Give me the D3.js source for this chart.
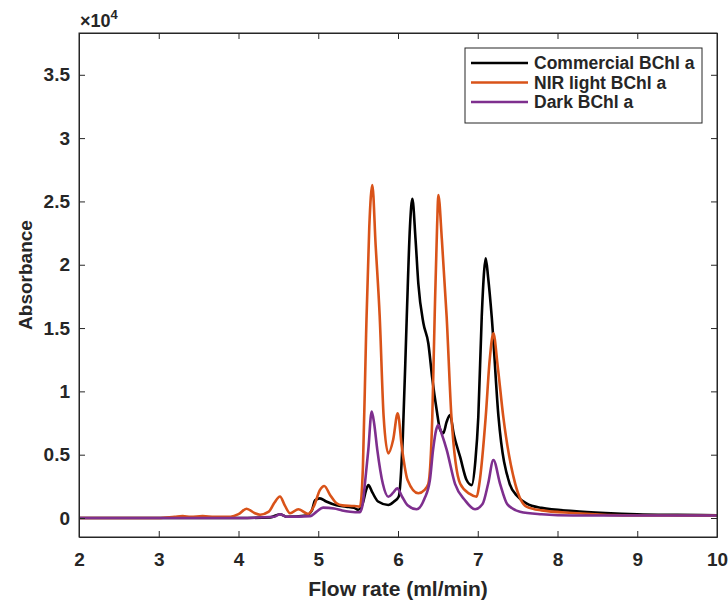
<!DOCTYPE html>
<html>
<head>
<meta charset="utf-8">
<script src="https://cdn.jsdelivr.net/npm/d3@7"></script>
<style>
  body { margin: 0; background: #fff; }
  text { font-family: "Liberation Sans", Arial, sans-serif; font-weight: bold; fill: #262626; }
</style>
</head>
<body>
<script>
// absorbance values are in units of 1e4 (axis shows x10^4)
const commercialX = [2, 3, 4, 4.4, 4.52, 4.6, 4.85, 4.92, 4.96, 5.02, 5.1, 5.23, 5.35, 5.45, 5.5, 5.56, 5.6, 5.628, 5.68, 5.75, 5.878, 5.95, 6.01, 6.06, 6.11, 6.15, 6.18, 6.22, 6.255, 6.318, 6.38, 6.43, 6.485, 6.527, 6.568, 6.61, 6.652, 6.7, 6.78, 6.86, 6.924, 6.97, 7.007, 7.05, 7.08, 7.1, 7.13, 7.175, 7.26, 7.4, 7.5, 7.61, 7.8, 8.2, 8.6, 9, 9.5, 10];
const commercialY = [0, 0, 0, 0.005, 0.03, 0.01, 0.02, 0.06, 0.14, 0.155, 0.13, 0.1, 0.09, 0.08, 0.065, 0.12, 0.22, 0.26, 0.2, 0.13, 0.103, 0.13, 0.17, 0.635, 1.59, 2.3, 2.52, 2.2, 1.85, 1.54, 1.38, 1.1, 0.853, 0.7, 0.67, 0.76, 0.814, 0.66, 0.48, 0.3, 0.26, 0.45, 0.8, 1.59, 1.95, 2.05, 1.9, 1.59, 0.8, 0.27, 0.17, 0.116, 0.08, 0.055, 0.04, 0.03, 0.025, 0.022];

const nirX = [2, 3, 3.2, 3.3, 3.4, 3.55, 3.7, 3.9, 4.0, 4.1, 4.2, 4.27, 4.38, 4.45, 4.52, 4.58, 4.646, 4.75, 4.875, 4.95, 5.02, 5.076, 5.15, 5.23, 5.3, 5.45, 5.523, 5.56, 5.6, 5.64, 5.678, 5.72, 5.77, 5.82, 5.878, 5.94, 5.996, 6.05, 6.12, 6.255, 6.33, 6.38, 6.43, 6.46, 6.49, 6.506, 6.55, 6.61, 6.67, 6.78, 6.9, 6.987, 7.02, 7.1, 7.15, 7.196, 7.25, 7.32, 7.47, 7.61, 7.8, 8.19, 9, 10];
const nirY = [0, 0, 0.01, 0.015, 0.01, 0.015, 0.01, 0.01, 0.03, 0.073, 0.04, 0.026, 0.05, 0.12, 0.17, 0.1, 0.037, 0.069, 0.032, 0.1, 0.22, 0.253, 0.18, 0.116, 0.1, 0.095, 0.09, 0.4, 1.45, 2.3, 2.63, 2.15, 1.6, 0.8, 0.51, 0.62, 0.827, 0.55, 0.3, 0.195, 0.22, 0.27, 0.8, 1.6, 2.3, 2.55, 2.2, 1.59, 0.8, 0.27, 0.19, 0.168, 0.27, 0.8, 1.25, 1.459, 1.2, 0.8, 0.27, 0.09, 0.06, 0.04, 0.02, 0.02];

const darkX = [2, 3, 4, 4.45, 4.52, 4.6, 4.9, 4.98, 5.06, 5.2, 5.3, 5.4, 5.52, 5.555, 5.585, 5.628, 5.67, 5.7, 5.74, 5.81, 5.878, 5.94, 5.99, 6.05, 6.12, 6.234, 6.33, 6.4, 6.44, 6.48, 6.506, 6.55, 6.61, 6.715, 6.84, 6.966, 7.06, 7.13, 7.196, 7.28, 7.37, 7.53, 7.8, 8.2, 9, 10];
const darkY = [0, 0, 0, 0.01, 0.03, 0.01, 0.015, 0.05, 0.082, 0.075, 0.06, 0.05, 0.045, 0.1, 0.27, 0.54, 0.84, 0.75, 0.54, 0.27, 0.168, 0.2, 0.234, 0.17, 0.1, 0.069, 0.15, 0.3, 0.54, 0.7, 0.735, 0.66, 0.54, 0.27, 0.14, 0.069, 0.11, 0.27, 0.458, 0.27, 0.11, 0.05, 0.03, 0.02, 0.02, 0.02];

const xTicks = [2, 3, 4, 5, 6, 7, 8, 9, 10];
const yTicks = [0, 0.5, 1, 1.5, 2, 2.5, 3, 3.5];
const seriesNames = ['Commercial BChl a', 'NIR light BChl a', 'Dark BChl a'];
const seriesColors = ['#000000', '#D95319', '#7E2F8E'];

const w = 728, h = 604;
const mLeft = 79, mRight = 717, mTop = 33, mBottom = 537;

const svg = d3.select('body').append('svg')
  .attr('width', w)
  .attr('height', h);

const x = d3.scaleLinear().domain([2, 10]).range([mLeft, mRight]);
const y = d3.scaleLinear().domain([-0.15, 3.83]).range([mBottom, mTop]);

svg.append('clipPath').attr('id', 'clip')
  .append('rect')
  .attr('x', mLeft).attr('y', mTop)
  .attr('width', mRight - mLeft).attr('height', mBottom - mTop);

// curves
const series = [
  d3.zip(commercialX, commercialY),
  d3.zip(nirX, nirY),
  d3.zip(darkX, darkY)
];

const line = d3.line()
  .x(d => x(d[0]))
  .y(d => y(d[1]))
  .curve(d3.curveMonotoneX);

svg.append('g').attr('clip-path', 'url(#clip)')
  .selectAll('path')
  .data(series)
  .enter()
  .append('path')
  .attr('d', line)
  .attr('fill', 'none')
  .attr('stroke', (d, i) => seriesColors[i])
  .attr('stroke-width', 2.6)
  .attr('stroke-linejoin', 'round');

// axes (box with inward ticks, matlab style)
const tick = 6;
const axisColor = '#262626';

svg.append('g')
  .attr('transform', `translate(0,${mBottom})`)
  .call(d3.axisBottom(x).tickValues(xTicks).tickSizeInner(-tick).tickSizeOuter(0).tickPadding(16).tickFormat(d3.format('d')))
  .call(g => g.selectAll('text').attr('font-size', 19).attr('dy', '0.71em'));

svg.append('g')
  .attr('transform', `translate(${mLeft},0)`)
  .call(d3.axisLeft(y).tickValues(yTicks).tickSizeInner(-tick).tickSizeOuter(0).tickPadding(9).tickFormat(d => d))
  .call(g => g.selectAll('text').attr('font-size', 19));

svg.append('g')
  .attr('transform', `translate(0,${mTop})`)
  .call(d3.axisTop(x).tickValues(xTicks).tickSizeInner(-tick).tickSizeOuter(0).tickFormat(''));

svg.append('g')
  .attr('transform', `translate(${mRight},0)`)
  .call(d3.axisRight(y).tickValues(yTicks).tickSizeInner(-tick).tickSizeOuter(0).tickFormat(''));

svg.selectAll('.domain, .tick line').attr('stroke', axisColor);
svg.selectAll('.tick text').attr('fill', axisColor).style('font-family', '"Liberation Sans", Arial, sans-serif').style('font-weight', 'bold');

// box
svg.append('rect')
  .attr('x', mLeft).attr('y', mTop)
  .attr('width', mRight - mLeft).attr('height', mBottom - mTop)
  .attr('fill', 'none')
  .attr('stroke', axisColor)
  .attr('stroke-width', 1);

// exponent label
const expo = svg.append('text')
  .attr('x', mLeft + 1)
  .attr('y', 27)
  .attr('font-size', 18);
expo.append('tspan').text('×10');
expo.append('tspan').attr('font-size', 13).attr('dy', -8).text('4');

// axis titles
svg.append('text')
  .attr('x', (mLeft + mRight) / 2)
  .attr('y', 596)
  .attr('text-anchor', 'middle')
  .attr('font-size', 21)
  .text('Flow rate (ml/min)');

svg.append('text')
  .attr('transform', 'translate(32,275) rotate(-90)')
  .attr('text-anchor', 'middle')
  .attr('font-size', 19)
  .text('Absorbance');

// legend
const legend = svg.append('g');
legend.append('rect')
  .attr('x', 465).attr('y', 48)
  .attr('width', 237).attr('height', 75)
  .attr('fill', '#fff')
  .attr('stroke', axisColor)
  .attr('stroke-width', 1);

const rows = legend.selectAll('g.row')
  .data(seriesNames)
  .enter()
  .append('g')
  .attr('transform', (d, i) => `translate(0,${63 + i * 19.5})`);

rows.append('line')
  .attr('x1', 471).attr('x2', 528)
  .attr('stroke', (d, i) => seriesColors[i])
  .attr('stroke-width', 2.6);

rows.append('text')
  .attr('x', 534)
  .attr('dy', '0.35em')
  .attr('font-size', 17.5)
  .text(d => d);
</script>
</body>
</html>
